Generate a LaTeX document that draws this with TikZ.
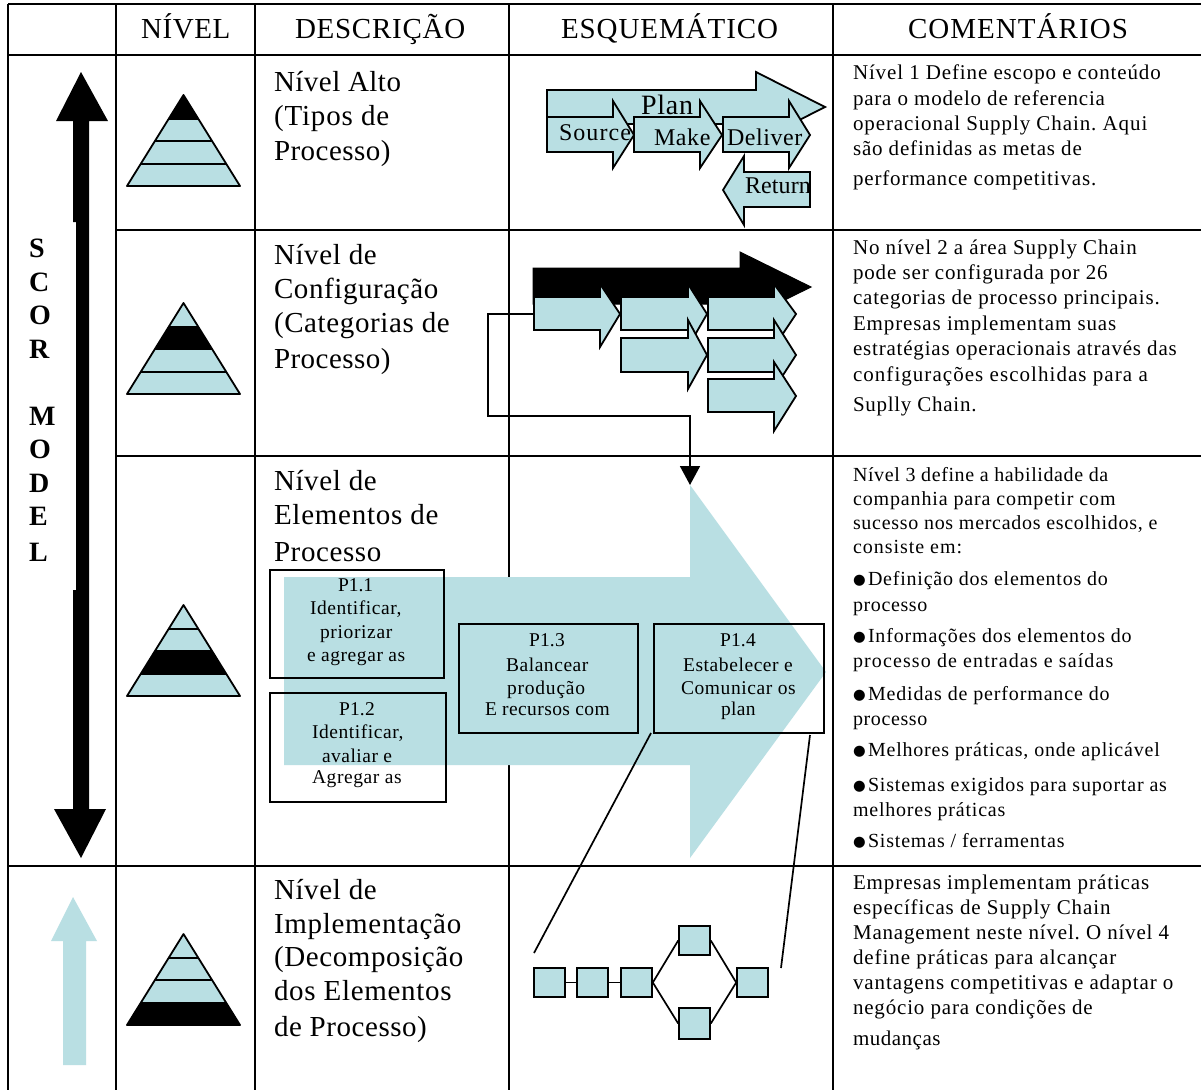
\documentclass[tikz,border=0pt]{standalone}
\usepackage{fontspec}
\setmainfont{Liberation Serif}
\newfontfamily\bulfont{DejaVu Sans}
\usetikzlibrary{arrows.meta}
\definecolor{lightb}{HTML}{B9DFE3}
\ExplSyntaxOn
\cs_new:Npn \fitcount #1 { \str_count:n {#1} }
\ExplSyntaxOff
\makeatletter
\newcommand\fitw[2]{\frenchspacing\setbox0\hbox{#2}\pgfmathsetmacro\lsv{((#1)-\the\wd0)/(\fitcount{#2})/\f@size*100}\addfontfeature{LetterSpace=\lsv}#2}
\makeatother
% \lbl[style]{name}{x}{baseline y}{width}{text}
\newcommand\lbl[6][]{\node[lblbase,#1] (#2) at (#3,#4) {\fitw{#5}{#6}};}
\newcommand\bul[2]{\node[lblbase,font=\bulfont\fontsize{14.5}{18}\selectfont] (#1) at (853,#2-0.5) {●};}
% right-pointing block arrow: left, head x, tip x, shaft top, shaft bottom, head top, head bottom, tip y
\newcommand\rarrow[9][blockb]{\filldraw[#1] (#2,#5) -- (#3,#5) -- (#3,#7) -- (#4,#9) -- (#3,#8) -- (#3,#6) -- (#2,#6) -- cycle;}
% pyramid: apex y, black band from offset, to offset
\newcommand\pyr[3]{%
  \fill[lightb] (183.5,#1) -- (127,#1+91) -- (240,#1+91) -- cycle;
  \fill[black] ({183.5-#2*0.621},#1+#2) -- ({183.5-#3*0.621},#1+#3) -- ({183.5+#3*0.621},#1+#3) -- ({183.5+#2*0.621},#1+#2) -- cycle;
  \draw[shape line,line join=round] (183.5,#1) -- (127,#1+91) -- (240,#1+91) -- cycle;
  \draw[shape line] (168.6,#1+24) -- (198.4,#1+24) (154.9,#1+46) -- (212.1,#1+46) (140.7,#1+69) -- (226.3,#1+69);}
\tikzset{
  x=1pt,y=-1pt,
  grid line/.style={line width=1.6pt,black},
  shape line/.style={line width=1.8pt,black},
  blockb/.style={fill=lightb,draw=black,line width=1.8pt,line join=miter},
  blockk/.style={fill=black,draw=black,line width=1pt},
  lblbase/.style={anchor=base west,inner sep=0pt,outer sep=0pt,text=black},
  head/.style={font=\fontsize{29}{32}\selectfont},
  desc/.style={font=\fontsize{29}{32}\selectfont},
  cmt/.style={font=\fontsize{21}{24}\selectfont},
  cmts/.style={font=\fontsize{20}{23}\selectfont},
  boxt/.style={font=\fontsize{19.5}{22}\selectfont},
  scor/.style={font=\bfseries\fontsize{28}{30}\selectfont,text=black},
  pbox/.style={draw=black,line width=1.7pt,fill=none,inner sep=0pt},
  sq/.style={draw=black,line width=1.6pt,fill=lightb,inner sep=0pt},
  thin link/.style={line width=1.7pt,black},
}
\begin{document}
\begin{tikzpicture}
\useasboundingbox (0,0) rectangle (1201,1090);
\fill[white] (0,0) rectangle (1201,1090);
% grid
\draw[grid line] (8,4) -- (1201,4) (8,55) -- (1201,55) (116,230) -- (1201,230) (116,456) -- (1201,456) (8,866) -- (1201,866);
\draw[grid line] (8,4) -- (8,1090) (116,4) -- (116,1090) (255,4) -- (255,1090) (509,4) -- (509,1090) (833,4) -- (833,1090);
% big arrow
\fill[lightb] (284,577) -- (690,577) -- (690,485) -- (826,672) -- (690,858) -- (690,765) -- (284,765) -- cycle;
% scor arrow
\fill[black] (81,72) -- (108,121) -- (89,121) -- (89,809) -- (106,809) -- (81,858) -- (54,809) -- (73,809) -- (73,590) -- (76,590) -- (76,222) -- (73,222) -- (73,121) -- (56,121) -- cycle;
% light arrow
\fill[lightb] (73,897) -- (97,941) -- (86,941) -- (86,1065) -- (63,1065) -- (63,941) -- (51,941) -- cycle;
% pyramids
\pyr{95}{0}{24}
\pyr{303}{24}{46}
\pyr{605}{46}{69}
\pyr{934}{69}{91}
% plan arrows
\rarrow{547}{756}{825}{90}{124}{72}{142}{107}
\rarrow{547}{613}{634}{117}{152}{101}{168}{135}
\rarrow{634}{700}{722}{117}{152}{101}{168}{135}
\rarrow{723}{789}{810}{117}{152}{101}{168}{135}
\filldraw[blockb] (810,172) -- (744,172) -- (744,156) -- (723,190) -- (744,225) -- (744,207) -- (810,207) -- cycle;
% config arrows
\rarrow[blockk]{533}{740}{811}{268}{304}{252}{322}{287}
\coordinate (a1w) at (534,314);
\coordinate (bend1) at (488,314);
\coordinate (bend2) at (488,416);
\coordinate (bend3) at (690,416);
\coordinate (bigtip) at (690,485);
\draw[line width=1.7pt,-{Triangle[length=19pt,width=20pt]}] (a1w) -- (bend1) -- (bend2) -- (bend3) -- (bigtip);
\rarrow{534}{600}{620}{297}{330}{284}{347}{314}
\rarrow{621}{688}{707}{297}{330}{284}{347}{314}
\rarrow{708}{774}{796}{297}{330}{284}{347}{314}
\rarrow{621}{688}{707}{338}{372}{320}{389}{355}
\rarrow{708}{774}{796}{338}{372}{320}{389}{355}
\rarrow{708}{774}{796}{379}{412}{362}{431}{396}
% process boxes
\node[pbox,minimum width=174pt,minimum height=108pt] (p1) at (357,624) {};
\node[pbox,minimum width=176pt,minimum height=109pt] (p2) at (358,747.5) {};
\node[pbox,minimum width=179pt,minimum height=109pt] (p3) at (548.5,678.5) {};
\node[pbox,minimum width=170pt,minimum height=109pt] (p4) at (739,678.5) {};
% small squares
\node[sq,minimum width=31pt,minimum height=29pt] (s1) at (549.5,982.5) {};
\node[sq,minimum width=31pt,minimum height=29pt] (s2) at (592.5,982.5) {};
\node[sq,minimum width=31pt,minimum height=29pt] (s3) at (636.5,982.5) {};
\node[sq,minimum width=31pt,minimum height=29pt] (s4) at (694.5,940.5) {};
\node[sq,minimum width=31pt,minimum height=31pt] (s5) at (694.5,1023.5) {};
\node[sq,minimum width=31pt,minimum height=29pt] (s6) at (752.5,982.5) {};
\draw[thin link] (s1) -- (s2);
\draw[thin link] (s2) -- (s3);
\draw[thin link] (s3.east) -- (s4.west);
\draw[thin link] (s3.east) -- (s5.west);
\draw[thin link] (s4.east) -- (s6.west);
\draw[thin link] (s5.east) -- (s6.west);
\coordinate (l1a) at (651,733);
\coordinate (l1b) at (534,953);
\coordinate (l2a) at (810,735);
\coordinate (l2b) at (781,968);
\draw[thin link] (l1a) -- (l1b);
\draw[thin link] (l2a) -- (l2b);
% headers
\lbl[head]{h1}{141}{38}{90}{NÍVEL}
\lbl[head]{h2}{295}{38}{171}{DESCRIÇÃO}
\lbl[head]{h3}{561}{38}{218}{ESQUEMÁTICO}
\lbl[head]{h4}{908}{38}{221}{COMENTÁRIOS}
% SCOR MODEL
\node[lblbase,scor] (sc1) at (29,257) {S};
\node[lblbase,scor] (sc2) at (29,291) {C};
\node[lblbase,scor] (sc3) at (29,324) {O};
\node[lblbase,scor] (sc4) at (29,358) {R};
\node[lblbase,scor] (sc5) at (29,425) {M};
\node[lblbase,scor] (sc6) at (29,458) {O};
\node[lblbase,scor] (sc7) at (29,492) {D};
\node[lblbase,scor] (sc8) at (29,525) {E};
\node[lblbase,scor] (sc9) at (29,561) {L};
% description
\lbl[desc]{d1}{274}{91}{128}{Nível Alto}
\lbl[desc]{d2}{274}{125}{117}{(Tipos de}
\lbl[desc]{d3}{274}{160}{117}{Processo)}
\lbl[desc]{d4}{274}{264}{104}{Nível de}
\lbl[desc]{d5}{274}{298}{165}{Configuração}
\lbl[desc]{d6}{274}{332}{177}{(Categorias de}
\lbl[desc]{d7}{274}{368}{117}{Processo)}
\lbl[desc]{d8}{274}{490}{104}{Nível de}
\lbl[desc]{d9}{274}{524}{166}{Elementos de}
\lbl[desc]{d10}{274}{561}{108}{Processo}
\lbl[desc]{d11}{274}{899}{104}{Nível de}
\lbl[desc]{d12}{274}{933}{188}{Implementação}
\lbl[desc]{d13}{274}{966}{190}{(Decomposição}
\lbl[desc]{d14}{274}{1000}{179}{dos Elementos}
\lbl[desc]{d15}{274}{1036}{154}{de Processo)}
% arrow labels
\lbl[font=\fontsize{28}{30}\selectfont]{a1}{641}{114}{53}{Plan}
\lbl[font=\fontsize{24}{26}\selectfont]{a2}{559}{140}{73}{Source}
\lbl[font=\fontsize{24}{26}\selectfont]{a3}{654}{145}{57}{Make}
\lbl[font=\fontsize{24}{26}\selectfont]{a4}{727}{145}{76}{Deliver}
\lbl[font=\fontsize{24}{26}\selectfont]{a5}{745}{193}{66}{Return}
% box labels
\lbl[boxt]{b1}{338}{591}{35}{P1.1}
\lbl[boxt]{b2}{310}{614}{92}{Identificar,}
\lbl[boxt]{b3}{320}{638}{73}{priorizar}
\lbl[boxt]{b4}{307}{661}{100}{e agregar as}
\lbl[boxt]{b5}{339}{715}{36}{P1.2}
\lbl[boxt]{b6}{312}{738}{92}{Identificar,}
\lbl[boxt]{b7}{322}{762}{71}{avaliar e}
\lbl[boxt]{b8}{312}{783}{91}{Agregar as}
\lbl[boxt]{b9}{529}{646}{36}{P1.3}
\lbl[boxt]{b10}{506}{671}{83}{Balancear}
\lbl[boxt]{b11}{507}{694}{79}{produção}
\lbl[boxt]{b12}{485}{715}{126}{E recursos com}
\lbl[boxt]{b13}{720}{646}{36}{P1.4}
\lbl[boxt]{b14}{683}{671}{111}{Estabelecer e}
\lbl[boxt]{b15}{681}{694}{116}{Comunicar os}
\lbl[boxt]{b16}{721}{715}{35}{plan}
% comments 1
\lbl[cmt]{c1}{853}{79}{313}{Nível 1 Define escopo e conteúdo}
\lbl[cmt]{c2}{853}{105}{256}{para o modelo de referencia}
\lbl[cmt]{c3}{853}{130}{298}{operacional Supply Chain. Aqui}
\lbl[cmt]{c4}{853}{155}{233}{são definidas as metas de}
\lbl[cmt]{c5}{853}{185}{245}{performance competitivas.}
% comments 2
\lbl[cmt]{c6}{853}{254}{290}{No nível 2 a área Supply Chain}
\lbl[cmt]{c7}{853}{279}{259}{pode ser configurada por 26}
\lbl[cmt]{c8}{853}{304}{310}{categorias de processo principais.}
\lbl[cmt]{c9}{853}{330}{266}{Empresas implementam suas}
\lbl[cmt]{c10}{853}{355}{327}{estratégias operacionais através das}
\lbl[cmt]{c11}{853}{381}{299}{configurações escolhidas para a}
\lbl[cmt]{c12}{853}{411}{125}{Suplly Chain.}
% comments 3
\lbl[cmts]{c13}{853}{481}{259}{Nível 3 define a habilidade da}
\lbl[cmts]{c14}{853}{505}{266}{companhia para competir com}
\lbl[cmts]{c15}{853}{529}{308}{sucesso nos mercados escolhidos, e}
\lbl[cmts]{c16}{853}{553}{111}{consiste em:}
\bul{u1}{585}
\lbl[cmts]{c17}{868}{585}{243}{Definição dos elementos do}
\lbl[cmts]{c18}{853}{611}{75}{processo}
\bul{u2}{642}
\lbl[cmts]{c19}{868}{642}{267}{Informações dos elementos do}
\lbl[cmts]{c20}{853}{667}{266}{processo de entradas e saídas}
\bul{u3}{700}
\lbl[cmts]{c21}{868}{700}{245}{Medidas de performance do}
\lbl[cmts]{c22}{853}{725}{75}{processo}
\bul{u4}{756}
\lbl[cmts]{c23}{868}{756}{295}{Melhores práticas, onde aplicável}
\bul{u5}{791}
\lbl[cmts]{c24}{868}{791}{303}{Sistemas exigidos para suportar as}
\lbl[cmts]{c25}{853}{816}{154}{melhores práticas}
\bul{u6}{847}
\lbl[cmts]{c26}{868}{847}{199}{Sistemas / ferramentas}
% comments 4
\lbl[cmt]{c27}{853}{889}{299}{Empresas implementam práticas}
\lbl[cmt]{c28}{853}{914}{261}{específicas de Supply Chain}
\lbl[cmt]{c29}{853}{939}{321}{Management neste nível. O nível 4}
\lbl[cmt]{c30}{853}{964}{267}{define práticas para alcançar}
\lbl[cmt]{c31}{853}{989}{325}{vantagens competitivas e adaptar o}
\lbl[cmt]{c32}{853}{1014}{243}{negócio para condições de}
\lbl[cmt]{c33}{853}{1045}{88}{mudanças}
\end{tikzpicture}
\end{document}
